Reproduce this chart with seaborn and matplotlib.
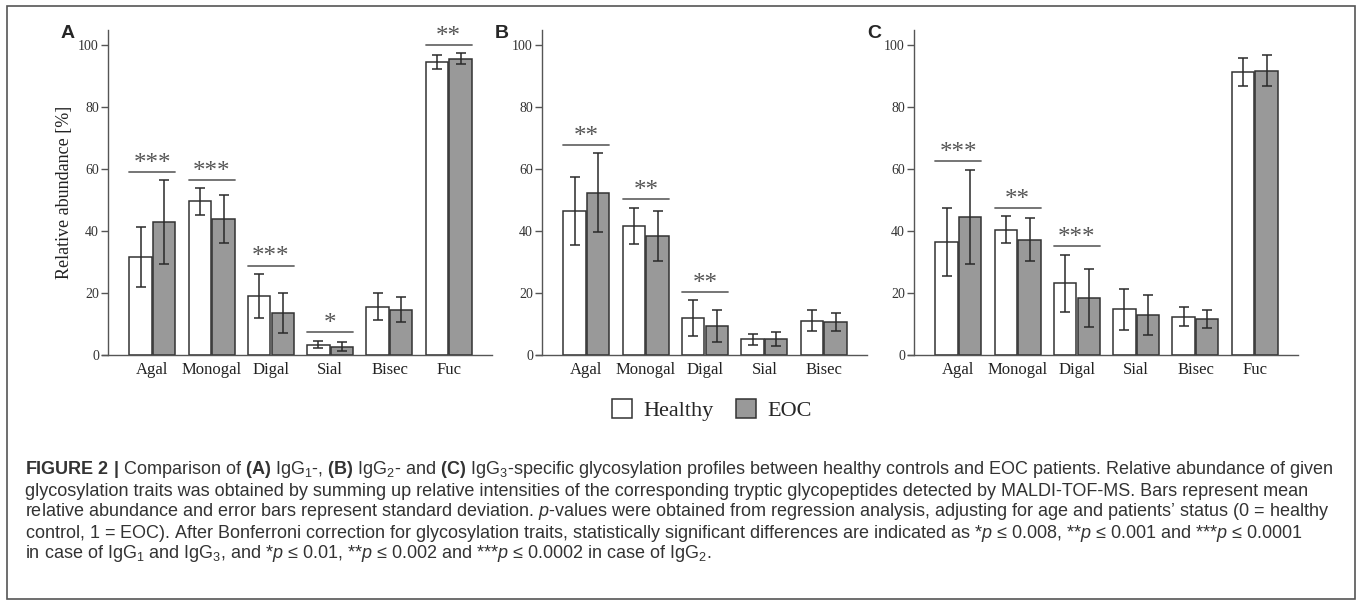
import matplotlib
matplotlib.use("Agg")
import matplotlib.pyplot as plt
from matplotlib.patches import Patch, Rectangle
import pandas as pd
import seaborn as sns

# --- data (mean, sd) ---
traits = ["Agal", "Monogal", "Digal", "Sial", "Bisec", "Fuc"]
traits_b = ["Agal", "Monogal", "Digal", "Sial", "Bisec"]
groups = ["Healthy", "EOC"]

# A: IgG1
a_healthy = [31.6, 49.5, 19.0, 3.3, 15.6, 94.4]
a_healthy_sd = [9.6, 4.2, 7.2, 1.1, 4.4, 2.3]
a_eoc = [42.8, 43.8, 13.5, 2.7, 14.6, 95.5]
a_eoc_sd = [13.5, 7.7, 6.4, 1.4, 4.0, 1.8]
a_sig_traits = ["Agal", "Monogal", "Digal", "Sial", "Fuc"]
a_sig_y = [59.0, 56.3, 28.8, 7.3, 100.0]
a_sig_marks = ["***", "***", "***", "*", "**"]

# B: IgG2
b_healthy = [46.4, 41.7, 11.9, 5.1, 11.1]
b_healthy_sd = [11.0, 5.8, 5.9, 1.8, 3.5]
b_eoc = [52.3, 38.3, 9.4, 5.1, 10.5]
b_eoc_sd = [12.7, 8.1, 5.1, 2.3, 2.9]
b_sig_traits = ["Agal", "Monogal", "Digal"]
b_sig_y = [67.7, 50.3, 20.4]
b_sig_marks = ["**", "**", "**"]

# C: IgG3
c_healthy = [36.5, 40.4, 23.2, 14.7, 12.4, 91.4]
c_healthy_sd = [11.0, 4.3, 9.2, 6.5, 3.2, 4.5]
c_eoc = [44.4, 37.2, 18.4, 12.9, 11.6, 91.7]
c_eoc_sd = [15.2, 6.9, 9.3, 6.3, 2.9, 4.9]
c_sig_traits = ["Agal", "Monogal", "Digal"]
c_sig_y = [62.4, 47.3, 35.1]
c_sig_marks = ["***", "**", "***"]

caption_lines = [
    r"$\mathbf{FIGURE\ 2\ |}$ Comparison of $\mathbf{(A)}$ IgG$_1$-, $\mathbf{(B)}$ IgG$_2$- and $\mathbf{(C)}$ IgG$_3$-specific glycosylation profiles between healthy controls and EOC patients. Relative abundance of given",
    "glycosylation traits was obtained by summing up relative intensities of the corresponding tryptic glycopeptides detected by MALDI-TOF-MS. Bars represent mean",
    r"relative abundance and error bars represent standard deviation. $p$-values were obtained from regression analysis, adjusting for age and patients’ status (0 = healthy",
    r"control, 1 = EOC). After Bonferroni correction for glycosylation traits, statistically significant differences are indicated as *$p$ ≤ 0.008, **$p$ ≤ 0.001 and ***$p$ ≤ 0.0001",
    r"in case of IgG$_1$ and IgG$_3$, and *$p$ ≤ 0.01, **$p$ ≤ 0.002 and ***$p$ ≤ 0.0002 in case of IgG$_2$.",
]

sns.set_style("ticks")
plt.rcParams["font.family"] = ["Liberation Serif", "DejaVu Serif"]
plt.rcParams["mathtext.fontset"] = "custom"
plt.rcParams["mathtext.rm"] = "Liberation Sans"
plt.rcParams["mathtext.it"] = "Liberation Sans:italic"
plt.rcParams["mathtext.bf"] = "Liberation Sans:bold"

W, H = 1357, 600
fig = plt.figure(figsize=(W / 100, H / 100), dpi=100)

GRAY = "#999999"
EDGE = "#333333"
AXC = "#555555"


def panel(rect, cats, healthy, healthy_sd, eoc, eoc_sd, sig_traits, sig_y, sig_marks):
    ax = fig.add_axes([rect[0] / W, 1 - 355 / H, rect[1] / W, 325 / H])
    df = pd.DataFrame({
        "trait": cats * 2,
        "group": ["Healthy"] * len(cats) + ["EOC"] * len(cats),
        "value": healthy + eoc,
    })
    sns.barplot(data=df, x="trait", y="value", hue="group", order=cats,
                hue_order=groups, palette={"Healthy": "white", "EOC": GRAY},
                saturation=1, edgecolor=EDGE, linewidth=1.1, width=0.8,
                gap=0.06, errorbar=None, legend=False, ax=ax)
    for cont, sds in zip(ax.containers, [healthy_sd, eoc_sd]):
        xs = [b.get_x() + b.get_width() / 2 for b in cont]
        ys = [b.get_height() for b in cont]
        ax.errorbar(xs, ys, yerr=sds, fmt="none", ecolor="#2a2a2a",
                    elinewidth=1.1, capsize=3.5, capthick=1.1, zorder=3)
    for t, y, m in zip(sig_traits, sig_y, sig_marks):
        i = cats.index(t)
        x0 = ax.containers[0][i].get_x()
        b1 = ax.containers[1][i]
        x1 = b1.get_x() + b1.get_width()
        ax.plot([x0, x1], [y, y], color="#6a6a6a", lw=1.3)
        ax.annotate(m, xy=((x0 + x1) / 2, y), xytext=(0, -2),
                    textcoords="offset points", ha="center", va="bottom",
                    fontsize=18, color="#555555")
    xmax = len(cats) - 0.27
    ax.set_xlim(-0.75, xmax)
    ax.set_ylim(0, 104.8)
    ax.set_yticks([0, 20, 40, 60, 80, 100])
    ax.set_xlabel("")
    ax.set_ylabel("")
    sns.despine(ax=ax)
    for s in ["left", "bottom"]:
        ax.spines[s].set_color(AXC)
        ax.spines[s].set_linewidth(1.0)
    ax.spines["bottom"].set_bounds(-0.85, xmax)
    ax.tick_params(axis="y", length=5, width=1, color=AXC, labelsize=10,
                   labelcolor="#333333", pad=1.5)
    ax.tick_params(axis="x", length=0, labelsize=12, labelcolor="#222222", pad=5)
    return ax


ax_a = panel((108, 384), traits, a_healthy, a_healthy_sd, a_eoc, a_eoc_sd,
             a_sig_traits, a_sig_y, a_sig_marks)
ax_a.set_ylabel("Relative abundance [%]", fontsize=13, color="#222222", labelpad=4)
panel((542, 325), traits_b, b_healthy, b_healthy_sd, b_eoc, b_eoc_sd,
      b_sig_traits, b_sig_y, b_sig_marks)
panel((914, 384), traits, c_healthy, c_healthy_sd, c_eoc, c_eoc_sd,
      c_sig_traits, c_sig_y, c_sig_marks)

for letter, px in zip(["A", "B", "C"], [61, 495, 867]):
    fig.text(px / W, 1 - 33 / H, letter, fontsize=14, fontweight="bold",
             family="Liberation Sans", ha="left", va="center")

handles = [Patch(facecolor="white", edgecolor=EDGE, linewidth=1.1),
           Patch(facecolor=GRAY, edgecolor=EDGE, linewidth=1.1)]
fig.legend(handles, groups, loc="center", bbox_to_anchor=(712 / W, 1 - 410 / H),
           ncol=2, frameon=False, fontsize=16, handlelength=0.9,
           handleheight=0.9, handletextpad=0.5, columnspacing=1.0)

# caption, scaled so the first line fills the frame width
cap_y = [470, 491, 512, 533, 554]
texts = [fig.text(25 / W, 1 - y / H, s, fontsize=11.5, family="Liberation Sans",
                  color="#333333", ha="left", va="center")
         for s, y in zip(caption_lines, cap_y)]
fig.canvas.draw()
w0 = texts[0].get_window_extent().width
scale = 1315 / w0
for t in texts:
    t.set_fontsize(11.5 * scale)

fig.add_artist(Rectangle((7 / W, 1 - 599 / H), 1348 / W, 593 / H,
                         transform=fig.transFigure, fill=False,
                         edgecolor="#555555", linewidth=1.2))

fig.savefig("out.png", dpi=100)
